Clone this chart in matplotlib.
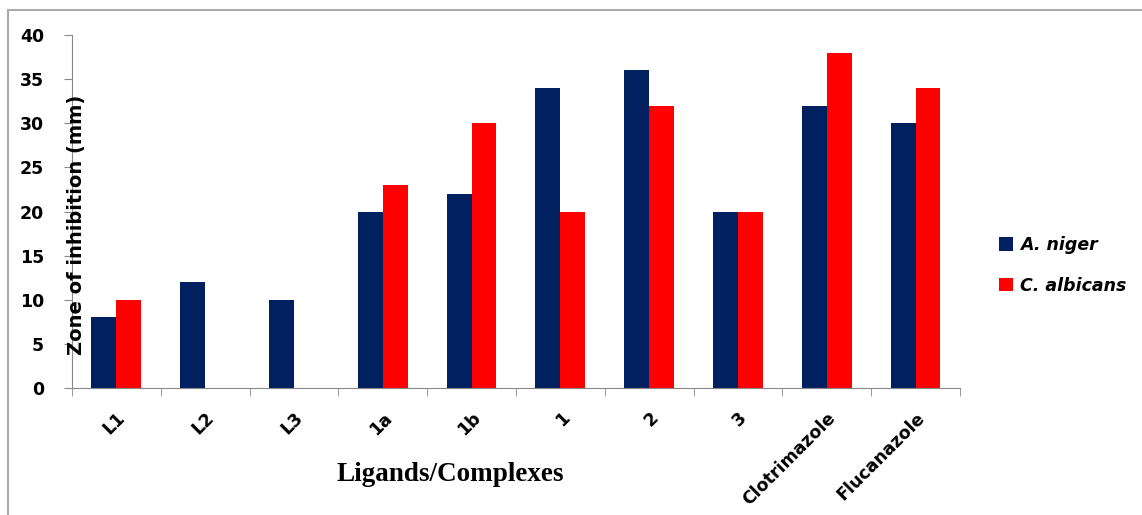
import matplotlib
matplotlib.use("Agg")
import matplotlib.pyplot as plt
import numpy as np
from matplotlib.patches import Rectangle

categories = ["L1", "L2", "L3", "1a", "1b", "1", "2", "3", "Clotrimazole", "Flucanazole"]
a_niger = [8, 12, 10, 20, 22, 34, 36, 20, 32, 30]
c_albicans = [10, 0, 0, 23, 30, 20, 32, 20, 38, 34]
series_names = ["A. niger", "C. albicans"]
colors = ["#002060", "#FF0000"]

fig = plt.figure(figsize=(11.42, 5.15), dpi=100)
ax = fig.add_axes([0.063, 0.2466, 0.7776, 0.6854])

x = np.arange(len(categories))
w = 0.28
ax.bar(x - w/2, a_niger, w, color=colors[0], label=series_names[0])
ax.bar(x + w/2, c_albicans, w, color=colors[1], label=series_names[1])

ax.set_xlim(-0.5, len(categories) - 0.5)
ax.set_ylim(0, 40)
ax.set_yticks(range(0, 41, 5))
ax.tick_params(axis='y', labelsize=12.5, length=6, color='#888888', pad=14)
for t in ax.get_yticklabels():
    t.set_fontweight('bold')
ax.set_xticks(x)
ax.set_xticklabels(categories, rotation=45, ha='right', rotation_mode='anchor',
                   fontsize=12.5, fontweight='bold')
ax.tick_params(axis='x', length=0, pad=15)
ax.set_xticks(np.arange(-0.5, len(categories), 1), minor=True)
ax.tick_params(axis='x', which='minor', length=6, color='#888888')
for s in ['top', 'right']:
    ax.spines[s].set_visible(False)
for s in ['left', 'bottom']:
    ax.spines[s].set_color('#888888')

ax.set_xlabel("Ligands/Complexes", family='Liberation Serif', fontweight='bold', fontsize=19.5)
ax.xaxis.set_label_coords(0.426, -0.244)
ax.xaxis.label.set_va('center')
fig.text(0.0674, 0.563, "Zone of inhibition (mm)", rotation=90, ha='center', va='center',
         fontsize=14, fontweight='bold')

fig.legend(loc='center left', bbox_to_anchor=(0.861, 0.485), frameon=False,
           prop={'weight': 'bold', 'style': 'italic', 'size': 12.5},
           handlelength=0.8, handleheight=0.8, labelspacing=1.3, handletextpad=0.4)

fig.patches.append(Rectangle((8/1142, -0.1), 1.2, 1 - 10/515 + 0.1, transform=fig.transFigure,
                             fill=False, edgecolor='#aaaaaa', linewidth=1.5))

fig.savefig("out.png", dpi=100)
